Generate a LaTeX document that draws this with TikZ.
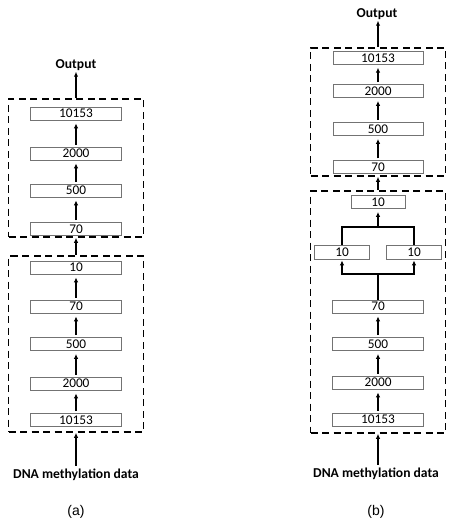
\documentclass[tikz,border=0pt]{standalone}
\usepackage{fontspec}
\setmainfont{Carlito}
\newfontfamily\arialfont{Liberation Sans}
\usetikzlibrary{arrows.meta}
\tikzset{
  layer/.style={draw=black!55, line width=0.8pt, minimum height=13pt, inner sep=0pt, fill=white,
    font=\fontsize{13.3}{13}\selectfont},
  group/.style={draw, dash pattern=on 7pt off 4.5pt, line width=1.6pt, inner sep=0pt},
  flow/.style={-{Latex[length=5pt,width=4.5pt]}, line width=1.5pt},
  link/.style={line width=1.5pt},
  title/.style={font=\fontsize{13.6}{14}\bfseries\selectfont, inner sep=1pt},
  caption/.style={font=\arialfont\fontsize{14}{15}\selectfont}
}
\begin{document}
\begin{tikzpicture}[x=1pt,y=-1pt]
\useasboundingbox (0,0) rectangle (474,529);
% ---------------- (a) ----------------
\node[group, minimum width=135pt, minimum height=138pt] (aU) at (76,168) {};
\node[group, minimum width=135pt, minimum height=176pt] (aL) at (76,344) {};
\node[layer, minimum width=91pt] (aU1) at (76,113.5) {10153};
\node[layer, minimum width=91pt] (aU2) at (76,153.5) {2000};
\node[layer, minimum width=91pt] (aU3) at (76,190.5) {500};
\node[layer, minimum width=91pt] (aU4) at (76,229) {70};
\node[layer, minimum width=91pt] (aL1) at (76,267.5) {10};
\node[layer, minimum width=91pt] (aL2) at (76,306.5) {70};
\node[layer, minimum width=91pt] (aL3) at (76,344) {500};
\node[layer, minimum width=91pt] (aL4) at (76,383.5) {2000};
\node[layer, minimum width=91pt] (aL5) at (76,420) {10153};
\node[title] (aOut) at (76,65) {Output};
\node[title] (aIn) at (76,475) {DNA methylation data};
\node[caption] (aCap) at (76,512) {(a)};
\draw[flow, shorten <=2pt, shorten >=3pt] (aL5) -- (aL4);
\draw[flow, shorten <=2pt, shorten >=3pt] (aL4) -- (aL3);
\draw[flow, shorten <=2pt, shorten >=3pt] (aL3) -- (aL2);
\draw[flow, shorten <=2pt, shorten >=3pt] (aL2) -- (aL1);
\draw[flow, shorten <=2pt, shorten >=3pt] (aU4) -- (aU3);
\draw[flow, shorten <=2pt, shorten >=3pt] (aU3) -- (aU2);
\draw[flow, shorten <=2pt, shorten >=3pt] (aU2) -- (aU1);
\draw[flow] (aL.north) -- (aU.south);
\draw[flow] (aU.north) -- (aOut.south);
\draw[flow, shorten <=2pt] (aIn.north) -- (aL.south);
% ---------------- (b) ----------------
\node[group, minimum width=135pt, minimum height=128pt] (bU) at (378,112) {};
\node[group, minimum width=135pt, minimum height=242pt] (bL) at (378,312) {};
\node[layer, minimum width=90pt, minimum height=12.5pt] (bU1) at (378,58) {10153};
\node[layer, minimum width=90pt] (bU2) at (378,91) {2000};
\node[layer, minimum width=90pt] (bU3) at (378,129) {500};
\node[layer, minimum width=90pt, minimum height=12.5pt] (bU4) at (378,167) {70};
\node[layer, minimum width=54pt] (bT) at (378,202) {10};
\node[layer, minimum width=55pt, minimum height=14pt] (bLeft) at (342,252) {10};
\node[layer, minimum width=55pt, minimum height=14pt] (bRight) at (414,252) {10};
\node[layer, minimum width=91pt] (bL1) at (378,306.5) {70};
\node[layer, minimum width=91pt] (bL2) at (378,344) {500};
\node[layer, minimum width=91pt] (bL3) at (378,382.5) {2000};
\node[layer, minimum width=91pt] (bL4) at (378,419.5) {10153};
\coordinate (fu) at (378,227);
\coordinate (fl) at (378,274);
\node[title] (bOut) at (377,14) {Output};
\node[title] (bIn) at (376,474) {DNA methylation data};
\node[caption] (bCap) at (376,512) {(b)};
\draw[flow, shorten <=2pt, shorten >=3pt] (bL4) -- (bL3);
\draw[flow, shorten <=2pt, shorten >=3pt] (bL3) -- (bL2);
\draw[flow, shorten <=2pt, shorten >=3pt] (bL2) -- (bL1);
\draw[link] (bL1.north) -- (fl);
\draw[flow, shorten >=1pt] (fl) -| (bLeft.south);
\draw[flow, shorten >=1pt] (fl) -| (bRight.south);
\draw[link] (bLeft.north) |- (fu) -| (bRight.north);
\draw[flow, shorten >=3pt] (fu) -- (bT.south);
\draw[flow, shorten <=2pt, shorten >=3pt] (bU4) -- (bU3);
\draw[flow, shorten <=2pt, shorten >=3pt] (bU3) -- (bU2);
\draw[flow, shorten <=2pt, shorten >=3pt] (bU2) -- (bU1);
\draw[flow] (bL.north) -- (bU.south);
\draw[flow] (bU.north) -- (bU.north |- bOut.south);
\draw[flow, shorten <=2pt] (bL.south |- bIn.north) -- (bL.south);
\end{tikzpicture}
\end{document}
